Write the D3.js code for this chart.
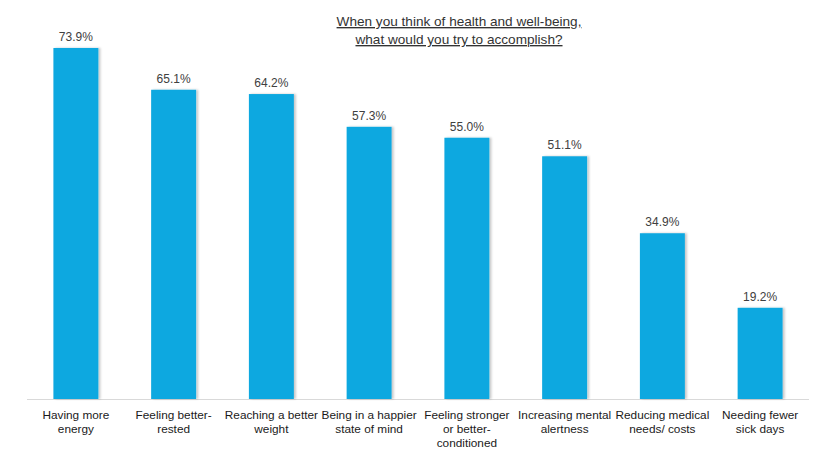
<!DOCTYPE html>
<html>
<head>
<meta charset="utf-8">
<script src="https://cdn.jsdelivr.net/npm/d3@7"></script>
<style>
  body { margin: 0; background: #fff; }
  text { font-family: "Liberation Sans", Arial, sans-serif; }
</style>
</head>
<body>
<svg id="chart" width="835" height="450"></svg>
<script>
// categories (label lines) and values
const categories = [
  ['Having more', 'energy'],
  ['Feeling better-', 'rested'],
  ['Reaching a better', 'weight'],
  ['Being in a happier', 'state of mind'],
  ['Feeling stronger', 'or better-', 'conditioned'],
  ['Increasing mental', 'alertness'],
  ['Reducing medical', 'needs/ costs'],
  ['Needing fewer', 'sick days']
];
const values = [73.9, 65.1, 64.2, 57.3, 55.0, 51.1, 34.9, 19.2];
const titleLines = ['When you think of health and well-being,', 'what would you try to accomplish?'];

const svg = d3.select('#chart');
const data = values.map(function(v, i) { return {v: v, lab: categories[i], id: i}; });

let x = d3.scaleBand()
  .domain(d3.range(values.length))
  .range([27, 809])
  .paddingInner(0.54)
  .paddingOuter(0.27);
let y = d3.scaleLinear()
  .domain([0, 80])
  .range([399, 19]);

// soft shadow behind bars
const defs = svg.append('defs');
const f = defs.append('filter').attr('id', 'shadow')
  .attr('x', '-20%').attr('y', '-5%').attr('width', '140%').attr('height', '110%');
f.append('feDropShadow')
  .attr('dx', 2).attr('dy', 0).attr('stdDeviation', 1.2)
  .attr('flood-color', '#000').attr('flood-opacity', 0.22);

// title
svg.append('g').selectAll('text')
  .data(titleLines)
.enter().append('text')
  .attr('x', 459)
  .attr('y', function(d, i) { return 26 + i * 18; })
  .attr('text-anchor', 'middle')
  .style('font-size', '13.6px')
  .style('fill', '#333')
  .style('text-decoration', 'underline')
  .text(function(d) { return d; });

// axis line
svg.append('line')
  .attr('x1', 27).attr('x2', 809)
  .attr('y1', y(0) + 0.5).attr('y2', y(0) + 0.5)
  .style('stroke', '#d9d9d9')
  .style('stroke-width', 1);

// bars
svg.append('g').selectAll('rect')
  .data(data)
.enter().append('rect')
  .attr('x', function(d) { return x(d.id); })
  .attr('y', function(d) { return y(d.v); })
  .attr('width', x.bandwidth())
  .attr('height', function(d) { return y(0) - y(d.v); })
  .attr('filter', 'url(#shadow)')
  .style('fill', '#10a8e0');

// value labels
svg.append('g').selectAll('text')
  .data(data)
.enter().append('text')
  .attr('x', function(d) { return x(d.id) + x.bandwidth() / 2; })
  .attr('y', function(d) { return y(d.v) - 7; })
  .attr('text-anchor', 'middle')
  .style('font-size', '12px')
  .style('fill', '#404040')
  .text(function(d) { return d.v.toFixed(1) + '%'; });

// category labels
const lab = svg.append('g').selectAll('text')
  .data(data)
.enter().append('text')
  .attr('text-anchor', 'middle')
  .style('font-size', '11.8px')
  .style('fill', '#1a1a1a');
lab.each(function(d) {
  let t = d3.select(this);
  d.lab.forEach(function(line, i) {
    t.append('tspan')
      .attr('x', x(d.id) + x.bandwidth() / 2)
      .attr('y', 419 + i * 13.8)
      .text(line);
  });
});
</script>
</body>
</html>
